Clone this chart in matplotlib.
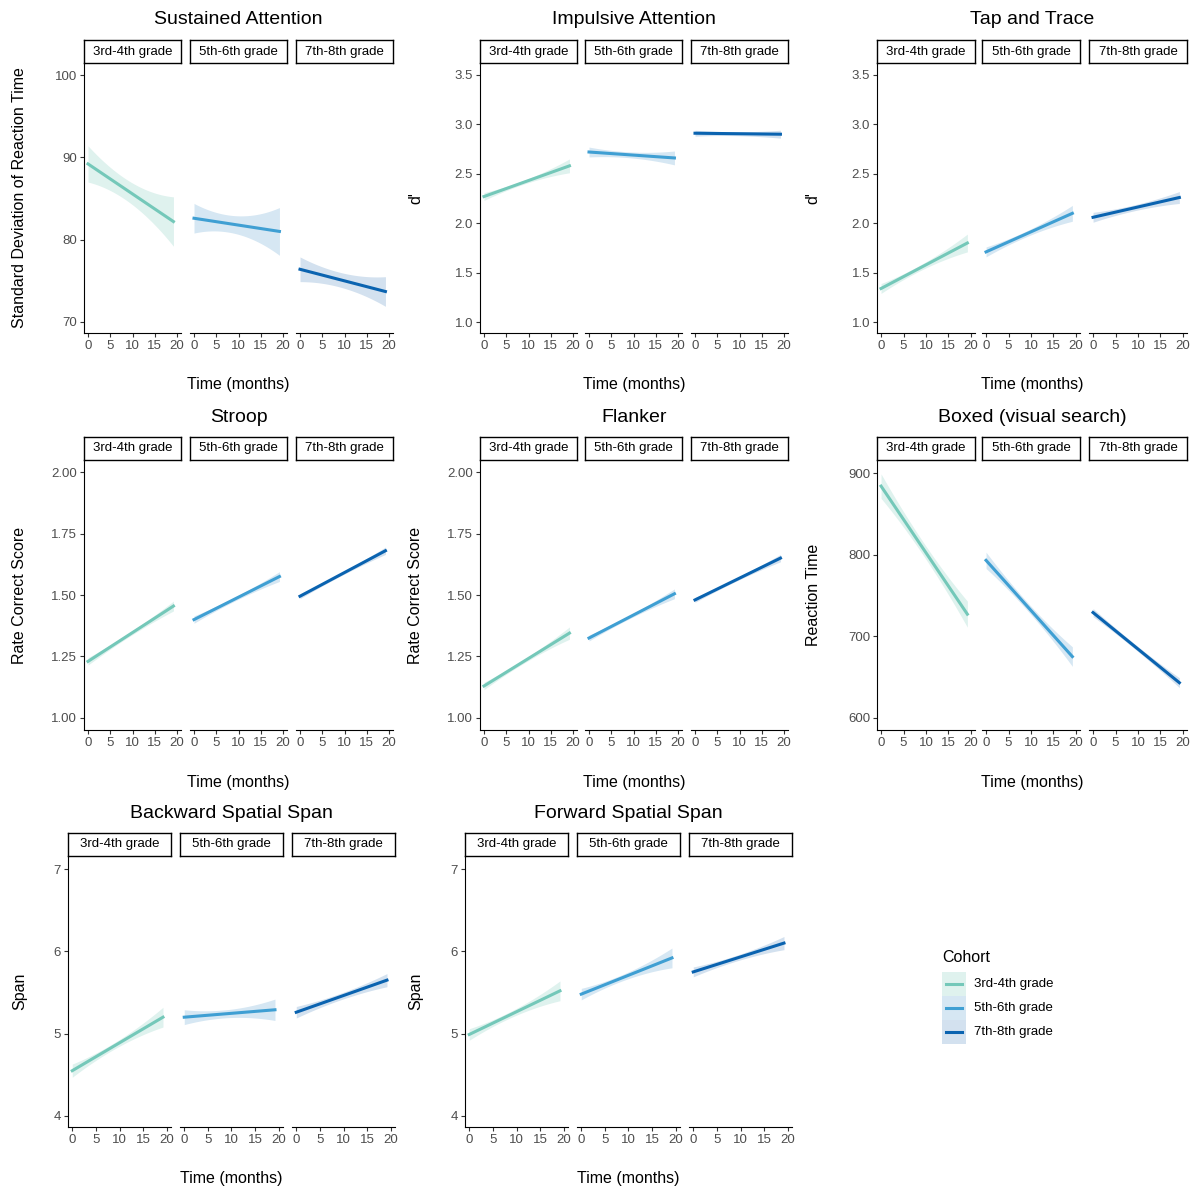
import numpy as np
import matplotlib
matplotlib.use("Agg")
import matplotlib.pyplot as plt
from matplotlib.patches import Rectangle
from matplotlib.lines import Line2D

plt.rcParams['font.family'] = ['Liberation Sans', 'DejaVu Sans']

cohorts = ["3rd-4th grade", "5th-6th grade", "7th-8th grade"]
colors = ["#74c8b9", "#3f9fd3", "#0a63b0"]
fills = ["#dff2ee", "#d6e7f3", "#d3e1ef"]

titles = ["Sustained Attention", "Impulsive Attention", "Tap and Trace", "Stroop", "Flanker",
          "Boxed (visual search)", "Backward Spatial Span", "Forward Spatial Span"]
ylabels = ["Standard Deviation of Reaction Time", "d'", "d'", "Rate Correct Score",
           "Rate Correct Score", "Reaction Time", "Span", "Span"]
yticks = [[70, 80, 90, 100], [1.0, 1.5, 2.0, 2.5, 3.0, 3.5], [1.0, 1.5, 2.0, 2.5, 3.0, 3.5],
          [1.00, 1.25, 1.50, 1.75, 2.00], [1.00, 1.25, 1.50, 1.75, 2.00],
          [600, 700, 800, 900], [4, 5, 6, 7], [4, 5, 6, 7]]
ytickfmt = ["{:.0f}", "{:.1f}", "{:.1f}", "{:.2f}", "{:.2f}", "{:.0f}", "{:.0f}", "{:.0f}"]
ylims = [(68.66, 101.46), (0.89, 3.62), (0.89, 3.62), (0.951, 2.049), (0.951, 2.049),
         (585, 916), (3.866, 7.158), (3.866, 7.158)]

# per panel, per cohort: (start, end) fitted value, and CI half-widths (start, mid, end)
fit_start = [[89.2, 82.6, 76.4], [2.27, 2.72, 2.91], [1.34, 1.71, 2.06], [1.23, 1.40, 1.495],
             [1.13, 1.325, 1.48], [884, 793, 729], [4.55, 5.20, 5.26], [4.99, 5.48, 5.75]]
fit_end = [[82.2, 81.0, 73.7], [2.58, 2.66, 2.90], [1.80, 2.10, 2.26], [1.455, 1.575, 1.68],
           [1.345, 1.505, 1.65], [727, 675, 643], [5.20, 5.29, 5.65], [5.52, 5.92, 6.10]]
hw_start = [[2.2, 1.8, 1.5], [0.04, 0.05, 0.03], [0.05, 0.05, 0.05], [0.015, 0.015, 0.01],
            [0.015, 0.012, 0.01], [15, 10, 5], [0.08, 0.09, 0.07], [0.07, 0.07, 0.06]]
hw_mid = [[1.3, 1.1, 0.9], [0.02, 0.03, 0.02], [0.03, 0.03, 0.03], [0.008, 0.008, 0.006],
          [0.008, 0.007, 0.006], [8, 5, 3], [0.04, 0.05, 0.04], [0.04, 0.04, 0.035]]
hw_end = [[3.0, 2.9, 1.8], [0.07, 0.07, 0.04], [0.09, 0.08, 0.06], [0.02, 0.02, 0.015],
          [0.025, 0.02, 0.015], [16, 12, 6], [0.12, 0.13, 0.08], [0.12, 0.12, 0.08]]
x_end = 19.2

W, H = 1194, 1187
fig = plt.figure(figsize=(W/100, H/100), dpi=100)

col_x = [[84, 190, 296], [480, 585, 691], [877, 982, 1089]]
col_x_row3 = [[68, 180, 292], [465, 577, 689]]
label_x = [20, 416, 813]
pw = [97, 97, 98]
row_y = [(63, 333), (460, 730), (856, 1127)]
GRAY = "#4d4d4d"

def fa(x, y, w, h):
    return [x/W, 1-(y+h)/H, w/W, h/H]

for p in range(8):
    r, c = divmod(p, 3)
    xs = col_x_row3[c] if r == 2 else col_x[c]
    w = 103 if r == 2 else pw[c]
    y0, y1 = row_y[r]
    for k in range(3):
        ax = fig.add_axes(fa(xs[k], y0, w, y1-y0))
        x = np.linspace(0, x_end, 60)
        t = x / x_end
        yfit = fit_start[p][k] + (fit_end[p][k]-fit_start[p][k])*t
        a, m, b = hw_start[p][k], hw_mid[p][k], hw_end[p][k]
        hw = a*(1-t)*(1-2*t) + 4*m*t*(1-t) + b*t*(2*t-1)
        ax.fill_between(x, yfit-hw, yfit+hw, color=fills[k], lw=0)
        ax.plot(x, yfit, color=colors[k], lw=2.2)
        ax.set_xlim(-0.9, 20.9)
        ax.set_ylim(*ylims[p])
        ax.set_xticks([0, 5, 10, 15, 20])
        ax.tick_params(labelsize=9.5, colors=GRAY, length=3, pad=2)
        ax.tick_params(axis='both', color='#333333')
        for s in ["top", "right"]:
            ax.spines[s].set_visible(False)
        if k == 0:
            ax.set_yticks(yticks[p])
            ax.set_yticklabels([ytickfmt[p].format(v) for v in yticks[p]])
        else:
            ax.spines["left"].set_visible(False)
            ax.set_yticks([])
        sax = fig.add_axes(fa(xs[k], y0-23, w, 23))
        sax.set_xticks([]); sax.set_yticks([])
        for s in sax.spines.values():
            s.set_linewidth(1.0)
        sax.text(0.5, 0.5, cohorts[k], ha="center", va="center", fontsize=9.5)
    fig.text(label_x[c]/W, 1-((y0+y1)/2)/H, ylabels[p], rotation=90, ha="center", va="center",
             fontsize=11.5)
    cx = xs[0] + (xs[2] + w - xs[0]) / 2
    fig.text(cx/W, 1-(y0-43)/H, titles[p], ha="center", va="center", fontsize=14)
    fig.text(cx/W, 1-(y1+52)/H, "Time (months)", ha="center", va="center", fontsize=11.5)

fig.text(942/W, 1-957/H, "Cohort", fontsize=11.5, va="center")
for k in range(3):
    yc = 984 + 24*k
    fig.patches.append(Rectangle(((942)/W, 1-(yc+12)/H), 24/W, 24/H, transform=fig.transFigure,
                                 color=fills[k], lw=0))
    fig.lines.append(Line2D([946/W, 962/W], [1-yc/H, 1-yc/H], transform=fig.transFigure,
                            color=colors[k], lw=2.2))
    fig.text(974/W, 1-yc/H, cohorts[k], fontsize=9.5, va="center")

fig.savefig("out.png", dpi=100)
